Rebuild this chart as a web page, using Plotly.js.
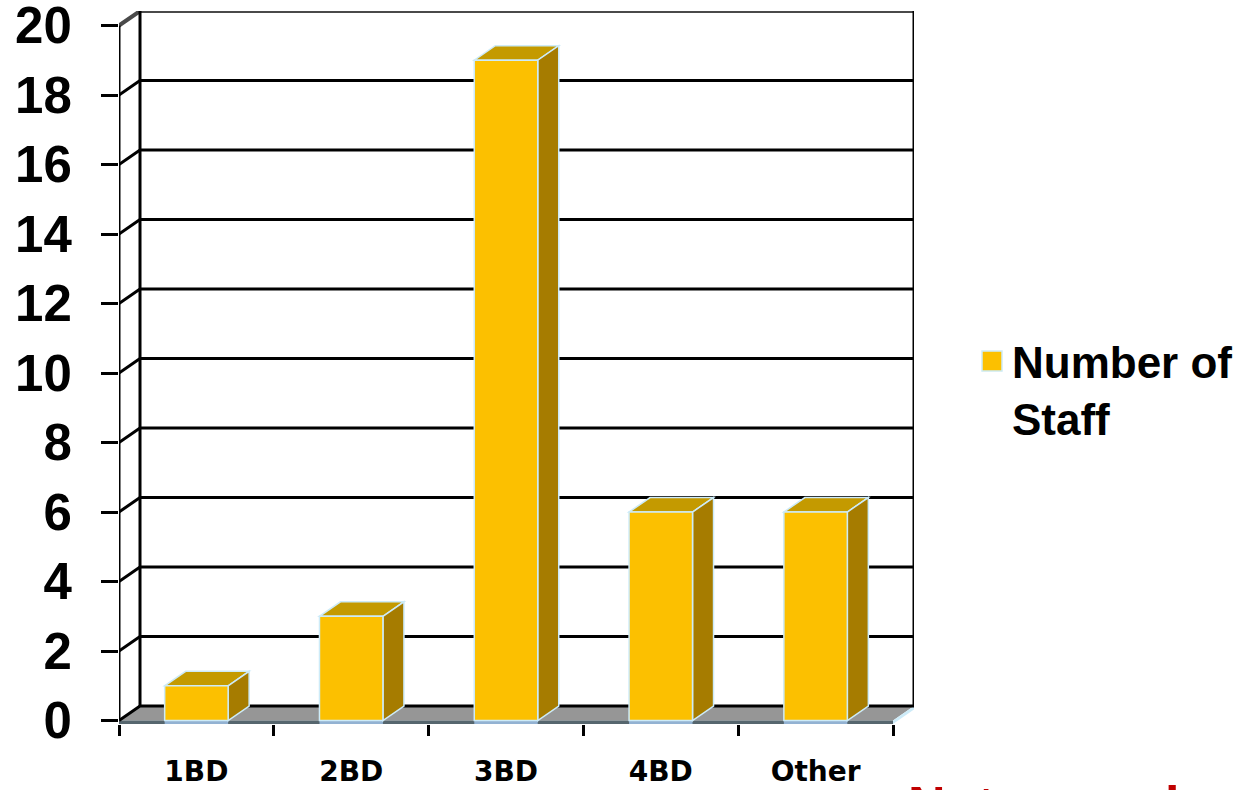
<!DOCTYPE html>
<html><head><meta charset="utf-8">
<script src="https://cdn.plot.ly/plotly-3.0.1.min.js"></script>
<style>html,body{margin:0;padding:0;background:#fff;overflow:hidden}#chart{width:1246px;height:790px}</style>
</head><body><div id="chart"></div>
<script>
// ---- data ----
const categories = ['1BD', '2BD', '3BD', '4BD', 'Other'];
const staffCounts = [1, 3, 19, 6, 6];
const seriesName = 'Number of<br>Staff';
const yTickValues = [0, 2, 4, 6, 8, 10, 12, 14, 16, 18, 20];
const footnote = 'Not enough staff';

// ---- layout geometry ----
const W = 1246, H = 790;
const margin = {l: 119, r: 332, t: 11, b: 66, pad: 0, autoexpand: false};
const plotW = W - margin.l - margin.r;
const plotH = H - margin.t - margin.b;
const depthPx = {x: 21, y: 14.5};
const n = categories.length;
const xSpan = n / (1 - depthPx.x / plotW);
const DX = xSpan - n;
const yLow = -0.1, yMax = 20;
const ySpan = (yMax - yLow) / (1 - depthPx.y / plotH);
const DY = ySpan - (yMax - yLow);
const barW = 0.41;
const xL = -0.5, xR = n - 0.5;

const colFront = '#FCC000', colTop = '#C49A00', colSide = '#A67C00', colEdge = '#CDEBF8';

const shapes = [];
function addPath(d, fill, lineColor, lineWidth) {
  shapes.push({type: 'path', xref: 'x', yref: 'y', layer: 'below', path: d,
    fillcolor: fill || 'rgba(0,0,0,0)',
    line: {color: lineColor || 'rgba(0,0,0,0)', width: lineWidth || 0}});
}
const P = (x, y) => x.toFixed(4) + ',' + y.toFixed(4);

// floor
addPath('M' + P(xL, 0) + 'L' + P(xR, 0) + 'L' + P(xR + DX, DY) + 'L' + P(xL + DX, DY) + 'Z', '#969696');
addPath('M' + P(xL, yLow) + 'L' + P(xR, yLow) + 'L' + P(xR, 0) + 'L' + P(xL, 0) + 'Z', '#56666E');
addPath('M' + P(xR, yLow) + 'L' + P(xR + DX, yLow + DY) + 'L' + P(xR + DX, DY) + 'L' + P(xR, 0) + 'Z', colEdge);
staffCounts.forEach((v, i) => {
  addPath('M' + P(i - barW / 2, yLow) + 'L' + P(i + barW / 2, yLow) + 'L' + P(i + barW / 2, 0) + 'L' + P(i - barW / 2, 0) + 'Z', '#93B2D2');
});

// back wall gridlines + left wall diagonals
yTickValues.forEach(t => {
  const top = t === yMax;
  addPath('M' + P(xL, t) + 'L' + P(xL + DX, t + DY) + 'L' + P(xR + DX, t + DY), null, top ? '#4a4a4a' : '#000', top ? 4 : 3);
});
addPath('M' + P(xL + DX, DY) + 'L' + P(xL + DX, yMax + DY), null, '#000', 3);
addPath('M' + P(xR + DX, DY) + 'L' + P(xR + DX, yMax + DY), null, '#000', 3);
addPath('M' + P(xL, 0) + 'L' + P(xL, yMax), null, '#000', 3);

// 3D faces of bars
staffCounts.forEach((v, i) => {
  const a = i - barW / 2, b = i + barW / 2;
  addPath('M' + P(a, v) + 'L' + P(b, v) + 'L' + P(b + DX, v + DY) + 'L' + P(a + DX, v + DY) + 'Z', colTop, colEdge, 1.5);
  addPath('M' + P(b, 0) + 'L' + P(b, v) + 'L' + P(b + DX, v + DY) + 'L' + P(b + DX, DY) + 'Z', colSide, colEdge, 1.5);
});

const trace = {
  type: 'bar', x: categories, y: staffCounts, name: seriesName, width: barW,
  marker: {color: colFront, line: {color: colEdge, width: 1.5}},
  hoverinfo: 'x+y'
};

const layout = {
  width: W, height: H, margin: margin,
  paper_bgcolor: '#fff', plot_bgcolor: 'rgba(0,0,0,0)',
  showlegend: true,
  legend: {x: (972 - margin.l) / plotW, xanchor: 'left', y: (H - margin.b - 326) / plotH, yanchor: 'top',
    valign: 'top', bgcolor: 'rgba(0,0,0,0)',
    font: {family: 'Liberation Sans, Arial, sans-serif', size: 44, color: '#000', weight: 'bold'}},
  xaxis: {type: 'category', range: [xL, xR + DX], tickson: 'boundaries', ticks: 'outside',
    ticklen: 11, tickwidth: 3, tickcolor: '#000', showgrid: false, showline: false, zeroline: false,
    ticklabelstandoff: 28,
    tickfont: {family: 'DejaVu Sans, Verdana, sans-serif', size: 28, color: '#000', weight: 'bold'}},
  yaxis: {range: [yLow, yLow + ySpan], tickmode: 'array', tickvals: yTickValues, ticks: 'outside',
    ticklen: 17, tickwidth: 3, tickcolor: '#000', showgrid: false, showline: false, zeroline: false,
    ticklabelstandoff: 19, ticklabeloverflow: 'allow',
    tickfont: {family: 'Liberation Sans, Arial, sans-serif', size: 51, color: '#000', weight: 'bold'}},
  shapes: shapes,
  annotations: [{text: footnote, xref: 'paper', yref: 'paper', x: (906 - margin.l) / plotW, xanchor: 'left',
    y: (H - margin.b - 774) / plotH, yanchor: 'top', showarrow: false,
    font: {family: 'Liberation Sans, Arial, sans-serif', size: 52, color: '#C00000', weight: 'bold'}}]
};

const gd = document.getElementById('chart');
function enlargeLegendSymbol() {
  gd.querySelectorAll('.legend .legendpoints path').forEach(p => {
    p.setAttribute('d', 'M10,10H-10V-10H10Z');
  });
}
Plotly.newPlot(gd, [trace], layout, {displayModeBar: false}).then(() => {
  enlargeLegendSymbol();
  gd.on('plotly_afterplot', enlargeLegendSymbol);
});
</script>
</body></html>
